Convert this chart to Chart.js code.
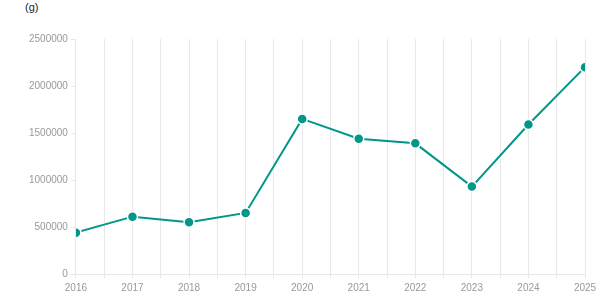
<!DOCTYPE html>
<html lang="en">
<head>
  <meta charset="UTF-8" />
  <title>Chart</title>
  <script src="https://cdn.jsdelivr.net/npm/chart.js"></script>
  <style>
    * { margin: 0; padding: 0; box-sizing: border-box; }
    body { background: #fff; width: 615px; height: 305px; overflow: hidden; position: relative; font-family: Arial, 'Liberation Sans', sans-serif; }
    .unit { position: absolute; left: 25px; top: 1px; font-size: 11px; color: #222; }
    .wrap { position: absolute; left: 0; top: 0; width: 615px; height: 305px; }
  </style>
</head>
<body>
  <div class="unit">(g)</div>
  <div class="wrap"><canvas id="chart"></canvas></div>
  <script>
    const years = [2016, 2017, 2018, 2019, 2020, 2021, 2022, 2023, 2024, 2025];
    const values = [440000, 610000, 550000, 650000, 1650000, 1440000, 1390000, 930000, 1590000, 2200000];
    const yTicks = [0, 500000, 1000000, 1500000, 2000000, 2500000];

    const tickColor = '#999';
    const gridColor = '#e8e8e8';

    new Chart(document.getElementById('chart'), {
      type: 'line',
      data: {
        datasets: [{
          data: years.map((y, i) => ({ x: y, y: values[i] })),
          borderColor: '#009688',
          backgroundColor: '#009688',
          borderWidth: 2,
          pointRadius: 5,
          pointBorderColor: '#fff',
          pointBorderWidth: 1.5,
          pointBackgroundColor: '#009688',
          tension: 0
        }]
      },
      options: {
        responsive: true,
        maintainAspectRatio: false,
        animation: false,
        layout: { padding: { left: 26, right: 30, top: 39, bottom: 7 } },
        plugins: { legend: { display: false }, tooltip: { enabled: false } },
        scales: {
          x: {
            type: 'linear',
            min: years[0],
            max: years[years.length - 1],
            ticks: {
              stepSize: 0.5,
              autoSkip: false,
              maxRotation: 0,
              color: tickColor,
              font: { size: 10, family: 'Arial' },
              padding: 4,
              callback: v => Number.isInteger(v) ? String(v) : ''
            },
            grid: { color: gridColor, tickLength: 4 },
            border: { color: gridColor }
          },
          y: {
            min: yTicks[0],
            max: yTicks[yTicks.length - 1],
            afterBuildTicks: axis => { axis.ticks = yTicks.map(v => ({ value: v })); },
            ticks: {
              color: tickColor,
              font: { size: 10, family: 'Arial' },
              padding: 3,
              callback: v => String(v)
            },
            grid: { drawOnChartArea: false, color: gridColor, tickLength: 5 },
            border: { color: gridColor }
          }
        }
      }
    });
  </script>
</body>
</html>
